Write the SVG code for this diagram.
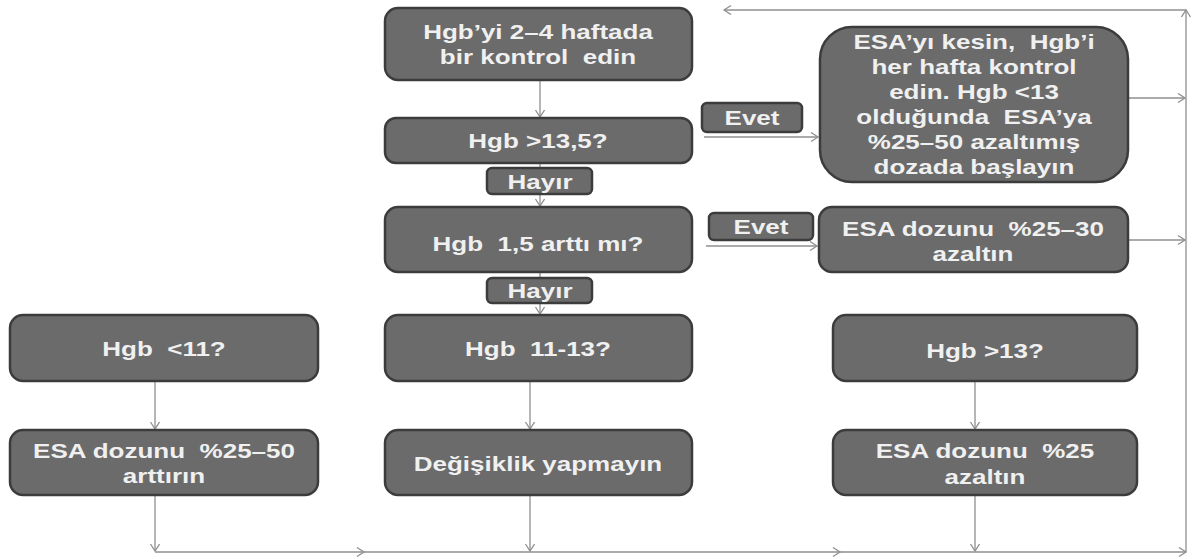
<svg xmlns="http://www.w3.org/2000/svg" width="1192" height="559" viewBox="0 0 1192 559">
<style>
  .box { fill: #6b6b6b; stroke: #3c3c3c; stroke-width: 2.5; }
  .lbl { fill: #6b6b6b; stroke: #3c3c3c; stroke-width: 2.5; }
  .t { font-family: "Liberation Sans", Arial, sans-serif; font-weight: bold; font-size: 20px; fill: #f0f0f0; text-anchor: middle; white-space: pre; }
  .c { fill: none; stroke: #8f8f8f; stroke-width: 1.3; }
  .ca { fill: none; stroke: #8f8f8f; stroke-width: 1.3; marker-end: url(#arr); }
</style>
<defs>
  <marker id="arr" markerWidth="12" markerHeight="12" refX="8" refY="5" orient="auto" markerUnits="userSpaceOnUse">
    <path d="M1,0.5 L8,5 L1,9.5" fill="none" stroke="#8f8f8f" stroke-width="1.3"/>
  </marker>
</defs>
<rect width="1192" height="559" fill="#ffffff"/>

<g id="connectors">
  <line class="ca" x1="540" y1="80" x2="540" y2="117"/>
  <line class="ca" x1="540" y1="163" x2="540" y2="206"/>
  <line class="ca" x1="540" y1="272" x2="540" y2="314"/>
  <line class="ca" x1="704" y1="137" x2="818" y2="137"/>
  <line class="ca" x1="706" y1="246" x2="817" y2="246"/>
  <line class="ca" x1="1128" y1="98" x2="1185" y2="98"/>
  <line class="ca" x1="1128" y1="240" x2="1185" y2="240"/>
  <line class="ca" x1="155" y1="381" x2="155" y2="429"/>
  <line class="ca" x1="530" y1="381" x2="530" y2="429"/>
  <line class="ca" x1="975" y1="381" x2="975" y2="429"/>
  <line class="ca" x1="155" y1="495" x2="155" y2="551"/>
  <line class="ca" x1="530" y1="495" x2="530" y2="551"/>
  <line class="ca" x1="975" y1="495" x2="975" y2="551"/>
  <line class="ca" x1="155" y1="552" x2="364" y2="552"/>
  <line class="ca" x1="364" y1="552" x2="840" y2="552"/>
  <line class="ca" x1="840" y1="552" x2="1186" y2="552"/>
  <line class="ca" x1="1186" y1="552" x2="1186" y2="10"/>
  <line class="ca" x1="1186" y1="10" x2="724" y2="10"/>
</g>

<g id="n1">
  <rect class="box" x="385" y="8" width="307" height="72" rx="13"/>
  <text class="t" transform="translate(538,39) scale(1.3,1)">Hgb’yi 2–4 haftada</text>
  <text class="t" transform="translate(538,64) scale(1.3,1)">bir kontrol  edin</text>
</g>
<g id="n2">
  <rect class="box" x="385" y="118" width="307" height="45" rx="11"/>
  <text class="t" transform="translate(538,148) scale(1.3,1)">Hgb &gt;13,5?</text>
</g>
<g id="hayir1">
  <rect class="lbl" x="487" y="168" width="105" height="26" rx="5"/>
  <text class="t" transform="translate(540,189) scale(1.3,1)">Hayır</text>
</g>
<g id="n3">
  <rect class="box" x="385" y="207" width="307" height="65" rx="13"/>
  <text class="t" transform="translate(538,251) scale(1.3,1)">Hgb  1,5 arttı mı?</text>
</g>
<g id="hayir2">
  <rect class="lbl" x="487" y="278" width="105" height="25" rx="5"/>
  <text class="t" transform="translate(540,298) scale(1.3,1)">Hayır</text>
</g>
<g id="evet1">
  <rect class="lbl" x="702" y="103" width="100" height="29" rx="5"/>
  <text class="t" transform="translate(752,125) scale(1.3,1)">Evet</text>
</g>
<g id="evet2">
  <rect class="lbl" x="709" y="213" width="104" height="27" rx="5"/>
  <text class="t" transform="translate(761,234) scale(1.3,1)">Evet</text>
</g>
<g id="n4">
  <rect class="box" x="820" y="27" width="308" height="155" rx="32"/>
  <text class="t" transform="translate(974,49) scale(1.3,1)">ESA’yı kesin,  Hgb’i</text>
  <text class="t" transform="translate(974,74) scale(1.3,1)">her hafta kontrol</text>
  <text class="t" transform="translate(974,99) scale(1.3,1)">edin. Hgb &lt;13</text>
  <text class="t" transform="translate(974,124) scale(1.3,1)">olduğunda  ESA’ya</text>
  <text class="t" transform="translate(974,149) scale(1.3,1)">%25–50 azaltımış</text>
  <text class="t" transform="translate(974,174) scale(1.3,1)">dozada başlayın</text>
</g>
<g id="n5">
  <rect class="box" x="819" y="207" width="309" height="65" rx="13"/>
  <text class="t" transform="translate(973,236) scale(1.3,1)">ESA dozunu  %25–30</text>
  <text class="t" transform="translate(973,261) scale(1.3,1)">azaltın</text>
</g>
<g id="n6">
  <rect class="box" x="10" y="315" width="308" height="66" rx="13"/>
  <text class="t" transform="translate(164,356) scale(1.3,1)">Hgb  &lt;11?</text>
</g>
<g id="n7">
  <rect class="box" x="385" y="315" width="307" height="66" rx="13"/>
  <text class="t" transform="translate(538,356) scale(1.3,1)">Hgb  11-13?</text>
</g>
<g id="n8">
  <rect class="box" x="833" y="315" width="304" height="66" rx="13"/>
  <text class="t" transform="translate(985,358) scale(1.3,1)">Hgb &gt;13?</text>
</g>
<g id="n9">
  <rect class="box" x="10" y="430" width="308" height="65" rx="13"/>
  <text class="t" transform="translate(164,458) scale(1.3,1)">ESA dozunu  %25–50</text>
  <text class="t" transform="translate(164,483) scale(1.3,1)">arttırın</text>
</g>
<g id="n10">
  <rect class="box" x="385" y="430" width="307" height="65" rx="13"/>
  <text class="t" transform="translate(538,471) scale(1.3,1)">Değişiklik yapmayın</text>
</g>
<g id="n11">
  <rect class="box" x="833" y="430" width="304" height="65" rx="13"/>
  <text class="t" transform="translate(985,458) scale(1.3,1)">ESA dozunu  %25</text>
  <text class="t" transform="translate(985,484) scale(1.3,1)">azaltın</text>
</g>
</svg>
